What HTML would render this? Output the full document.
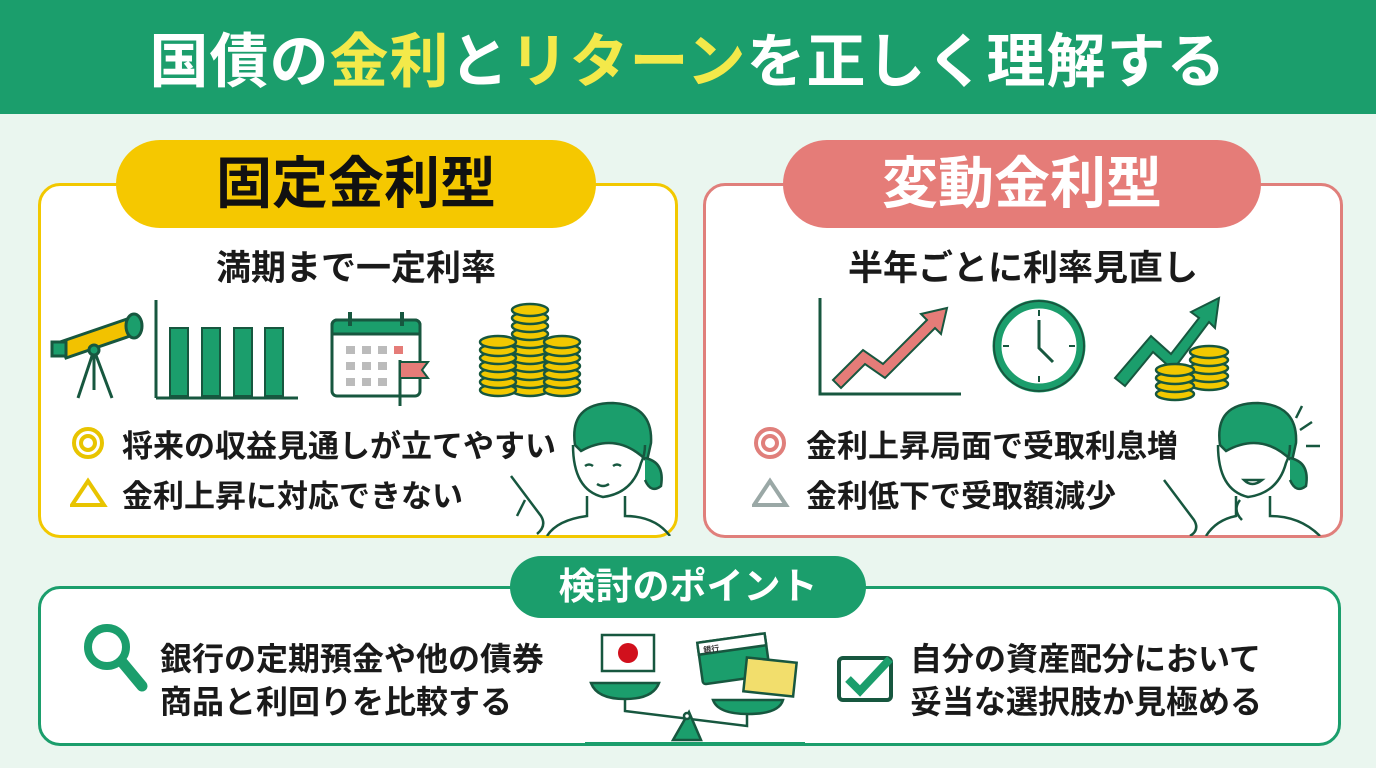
<!DOCTYPE html>
<html><head><meta charset="utf-8"><style>
*{margin:0;padding:0;box-sizing:border-box}
body{width:1376px;height:768px;overflow:hidden;background:#eaf6ef;font-family:"Liberation Sans","Noto Sans CJK JP",sans-serif;position:relative;font-weight:bold;color:#1a1a1a}
.abs{position:absolute}
.hdr{left:0;top:0;width:1376px;height:114px;background:#1b9e6c;color:#fff;font-size:59px;text-align:center;line-height:124px;letter-spacing:1px}
.hdr span{color:#f3e94a}
.panel{background:#fff;border-radius:22px}
.pill{border-radius:44px;text-align:center}
.t30{font-size:31px;white-space:nowrap}
</style></head><body>
<div class="abs hdr">国債の<span>金利</span>と<span>リターン</span>を正しく理解する</div>

<!-- left panel -->
<div class="abs panel" style="left:38px;top:183px;width:640px;height:355px;border:3px solid #f2c800"></div>
<div class="abs pill" style="left:116px;top:140px;width:480px;height:88px;background:#f5c800;font-size:56px;line-height:88px;color:#111">固定金利型</div>
<div class="abs" style="left:0;width:712px;text-align:center;top:240px;font-size:35px">満期まで一定利率</div>
<svg class="abs" style="left:50px;top:290px" width="540" height="120" viewBox="0 0 540 120">
 <g stroke="#17573f" stroke-width="3" fill="none">
  <line x1="44" y1="60" x2="28" y2="108"/><line x1="44" y1="60" x2="62" y2="108"/><line x1="44" y1="60" x2="44" y2="100"/>
  <polygon points="10,52 80,28 86,44 16,68" fill="#f2c200"/>
  <rect x="2" y="52" width="14" height="14" fill="#1b9e6c"/>
  <ellipse cx="84" cy="36" rx="8" ry="12" fill="#1b9e6c"/>
  <circle cx="44" cy="60" r="5" fill="#1b9e6c"/>
  <line x1="106" y1="10" x2="106" y2="108"/><line x1="106" y1="108" x2="248" y2="108"/>
 </g>
 <g fill="#1b9e6c" stroke="#17573f" stroke-width="2"><rect x="120" y="38" width="18" height="68"/><rect x="152" y="38" width="18" height="68"/><rect x="184" y="38" width="18" height="68"/><rect x="215" y="38" width="18" height="68"/></g>
 <rect x="282" y="30" width="88" height="76" rx="5" fill="#fff" stroke="#17573f" stroke-width="3"/>
 <path d="M282 44 v-9 a5 5 0 0 1 5-5 h78 a5 5 0 0 1 5 5 v9z" fill="#1b9e6c" stroke="#17573f" stroke-width="3"/>
 <g fill="#bbb"><rect x="296" y="56" width="9" height="8"/><rect x="312" y="56" width="9" height="8"/><rect x="328" y="56" width="9" height="8"/><rect x="344" y="56" width="9" height="8" fill="#e57c78"/><rect x="296" y="72" width="9" height="8"/><rect x="312" y="72" width="9" height="8"/><rect x="328" y="72" width="9" height="8"/><rect x="296" y="88" width="9" height="8"/><rect x="312" y="88" width="9" height="8"/><rect x="328" y="88" width="9" height="8"/></g>
 <line x1="300" y1="22" x2="300" y2="36" stroke="#17573f" stroke-width="4"/><line x1="352" y1="22" x2="352" y2="36" stroke="#17573f" stroke-width="4"/>
 <line x1="350" y1="70" x2="350" y2="116" stroke="#17573f" stroke-width="3"/><path d="M350 72 h28 l-6 8 l6 8 h-28z" fill="#e57c78" stroke="#17573f" stroke-width="2"/>
 <g fill="#f2c800" stroke="#17573f" stroke-width="2.5">
  <ellipse cx="480" cy="100" rx="18" ry="6"/><ellipse cx="480" cy="92" rx="18" ry="6"/><ellipse cx="480" cy="84" rx="18" ry="6"/><ellipse cx="480" cy="76" rx="18" ry="6"/><ellipse cx="480" cy="68" rx="18" ry="6"/><ellipse cx="480" cy="60" rx="18" ry="6"/><ellipse cx="480" cy="52" rx="18" ry="6"/><ellipse cx="480" cy="44" rx="18" ry="6"/><ellipse cx="480" cy="36" rx="18" ry="6"/><ellipse cx="480" cy="28" rx="18" ry="6"/><ellipse cx="480" cy="20" rx="18" ry="6"/>
  <ellipse cx="448" cy="100" rx="18" ry="6"/><ellipse cx="448" cy="92" rx="18" ry="6"/><ellipse cx="448" cy="84" rx="18" ry="6"/><ellipse cx="448" cy="76" rx="18" ry="6"/><ellipse cx="448" cy="68" rx="18" ry="6"/><ellipse cx="448" cy="60" rx="18" ry="6"/><ellipse cx="448" cy="52" rx="18" ry="6"/>
  <ellipse cx="512" cy="100" rx="18" ry="6"/><ellipse cx="512" cy="92" rx="18" ry="6"/><ellipse cx="512" cy="84" rx="18" ry="6"/><ellipse cx="512" cy="76" rx="18" ry="6"/><ellipse cx="512" cy="68" rx="18" ry="6"/><ellipse cx="512" cy="60" rx="18" ry="6"/><ellipse cx="512" cy="52" rx="18" ry="6"/>
 </g>
</svg>
<svg class="abs" style="left:70px;top:425px" width="40" height="90"><circle cx="18" cy="18" r="14" fill="none" stroke="#e8c400" stroke-width="4"/><circle cx="18" cy="18" r="7" fill="none" stroke="#e8c400" stroke-width="4"/><polygon points="18,56 34,80 2,80" fill="none" stroke="#e8c400" stroke-width="4"/></svg>
<div class="abs t30" style="left:122px;top:421px">将来の収益見通しが立てやすい</div>
<div class="abs t30" style="left:122px;top:471px">金利上昇に対応できない</div>
<svg class="abs" style="left:505px;top:400px" width="170" height="136" fill="none" stroke="#17573f" stroke-width="2.5">
 <path d="M70 45 q-6-42 38-42 q40 2 38 40 l-4 18 q-30-30-66-10z" fill="#1b9e6c"/>
 <path d="M68 45 q0 45 30 52 q30-4 38-34 q4-8 4-18"/>
 <path d="M140 58 q20 4 16 28 q-10 8-16-6" fill="#1b9e6c"/>
 <path d="M80 66 q4-3 8 0 M108 66 q4-3 8 0 M92 84 q6 4 12 0"/>
 <path d="M82 96 v20 q-30 4 -40 20 M120 96 v20 q30 0 45 20"/>
 <path d="M6 76 l30 40 q6 10 -4 18 M20 100 l-8 16"/>
</svg>

<!-- right panel -->
<div class="abs panel" style="left:703px;top:183px;width:640px;height:355px;border:3px solid #e07f7b"></div>
<div class="abs pill" style="left:783px;top:140px;width:478px;height:88px;background:#e57c78;font-size:56px;line-height:88px;color:#fff">変動金利型</div>
<div class="abs" style="left:703px;width:640px;text-align:center;top:240px;font-size:35px">半年ごとに利率見直し</div>
<svg class="abs" style="left:815px;top:290px" width="430" height="115" viewBox="0 0 430 115">
 <path d="M5 8 V104 H146" fill="none" stroke="#17573f" stroke-width="3"/>
 <path d="M18 90 L48 60 L68 74 L112 30 L106 24 L132 18 L126 44 L120 38 L70 88 L50 74 L26 98z" fill="#e57c78" stroke="#17573f" stroke-width="2"/>
 <circle cx="224" cy="56" r="42" fill="#fff" stroke="#1b9e6c" stroke-width="9"/><circle cx="224" cy="56" r="45" fill="none" stroke="#17573f" stroke-width="2"/>
 <path d="M224 30 V58 L238 72" fill="none" stroke="#17573f" stroke-width="3"/>
 <g stroke="#17573f" stroke-width="2"><line x1="224" y1="20" x2="224" y2="26"/><line x1="224" y1="86" x2="224" y2="92"/><line x1="188" y1="56" x2="194" y2="56"/><line x1="254" y1="56" x2="260" y2="56"/></g>
 <path d="M300 88 L336 46 L356 64 L384 28 L376 22 L404 8 L400 38 L394 32 L358 80 L338 62 L310 96z" fill="#1b9e6c" stroke="#17573f" stroke-width="2"/>
 <g fill="#f2c800" stroke="#17573f" stroke-width="2.5">
  <ellipse cx="394" cy="94" rx="19" ry="6"/><ellipse cx="394" cy="86" rx="19" ry="6"/><ellipse cx="394" cy="78" rx="19" ry="6"/><ellipse cx="394" cy="70" rx="19" ry="6"/><ellipse cx="394" cy="62" rx="19" ry="6"/>
  <ellipse cx="360" cy="104" rx="19" ry="6"/><ellipse cx="360" cy="96" rx="19" ry="6"/><ellipse cx="360" cy="88" rx="19" ry="6"/><ellipse cx="360" cy="80" rx="19" ry="6"/>
 </g>
</svg>
<svg class="abs" style="left:752px;top:425px" width="40" height="90"><circle cx="18" cy="18" r="14" fill="none" stroke="#e07f7b" stroke-width="4"/><circle cx="18" cy="18" r="7" fill="none" stroke="#e07f7b" stroke-width="4"/><polygon points="18,56 34,80 2,80" fill="none" stroke="#9aa8a6" stroke-width="4"/></svg>
<div class="abs t30" style="left:806px;top:421px">金利上昇局面で受取利息増</div>
<div class="abs t30" style="left:806px;top:471px">金利低下で受取額減少</div>
<svg class="abs" style="left:1160px;top:400px" width="175" height="136" fill="none" stroke="#17573f" stroke-width="2.5">
 <path d="M60 45 q-6-42 38-42 q40 2 38 40 l-4 18 q-30-30-66-10z" fill="#1b9e6c"/>
 <path d="M58 45 q0 45 30 52 q30-4 38-34 q4-8 4-18"/>
 <path d="M130 58 q20 4 16 28 q-10 8-16-6" fill="#1b9e6c"/>
 <path d="M140 30 l12-8 M146 46 h14 M136 18 l6-12"/>
 <path d="M84 80 q8 8 18 0z" fill="#fff"/>
 <path d="M76 96 v20 q-20 4 -30 20 M110 96 v20 q30 0 50 20"/>
 <path d="M4 80 l30 40 q6 10 -4 16 M80 100 q-8 10 2 20"/>
</svg>

<!-- bottom panel -->
<div class="abs panel" style="left:38px;top:586px;width:1303px;height:160px;border:3px solid #1b9e6c"></div>
<div class="abs pill" style="left:510px;top:556px;width:356px;height:62px;background:#1b9e6c;font-size:37px;line-height:62px;color:#fff">検討のポイント</div>
<svg class="abs" style="left:80px;top:620px" width="72" height="76"><circle cx="27" cy="27" r="19" fill="none" stroke="#1b9e6c" stroke-width="8"/><line x1="42" y1="42" x2="62" y2="66" stroke="#1b9e6c" stroke-width="11" stroke-linecap="round"/></svg>
<div class="abs" style="left:160px;top:638px;line-height:43px;font-size:32px;white-space:nowrap">銀行の定期預金や他の債券<br>商品と利回りを比較する</div>
<svg class="abs" style="left:585px;top:630px" width="220" height="118" stroke="#17573f" stroke-width="2.5">
 <rect x="17" y="5" width="52" height="36" fill="#fff"/><circle cx="43" cy="23" r="10" fill="#d1101c" stroke="none"/>
 <path d="M6 53 h68 q-6 16 -34 16 q-28 0 -34-16z" fill="#1b9e6c"/>
 <path d="M40 69 v12 L162 96 v-14" fill="none"/>
 <path d="M128 70 h70 q-4 14 -35 14 q-30 0 -35-14z" fill="#1b9e6c"/>
 <path d="M88 110 L104 82 L116 110z" fill="#1b9e6c"/><circle cx="102" cy="86" r="3" fill="#fff"/>
 <rect x="0" y="112" width="220" height="4" fill="#1b9e6c" stroke="none"/>
 <g transform="rotate(-8 148 30)"><rect x="115" y="8" width="68" height="42" rx="3" fill="#1b9e6c"/><rect x="115" y="8" width="68" height="12" fill="#fff"/><text x="120" y="19" font-size="8" fill="#333" stroke="none">銀行</text></g>
 <rect x="160" y="30" width="50" height="34" fill="#f2de6c" transform="rotate(6 185 47)"/>
</svg>
<svg class="abs" style="left:836px;top:655px" width="60" height="50"><rect x="3" y="3" width="52" height="42" rx="4" fill="none" stroke="#17573f" stroke-width="4"/><path d="M12 24 l12 12 l30-32" fill="none" stroke="#1b9e6c" stroke-width="8"/></svg>
<div class="abs" style="left:910px;top:638px;line-height:43px;font-size:32px;white-space:nowrap">自分の資産配分において<br>妥当な選択肢か見極める</div>
</body></html>
